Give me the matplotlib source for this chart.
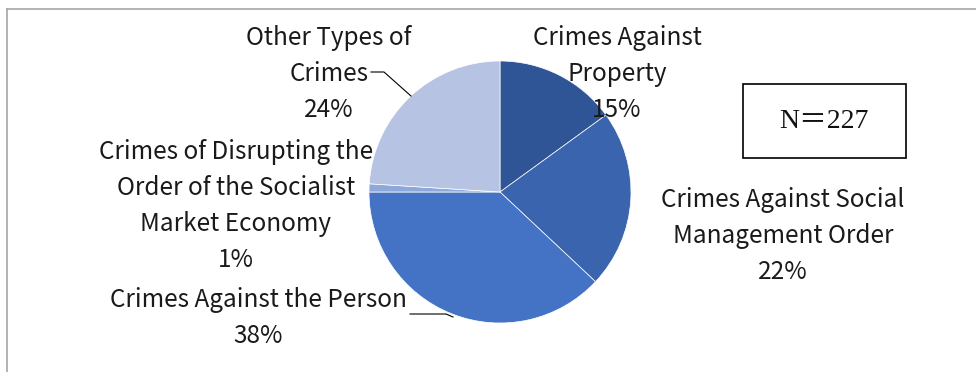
import matplotlib.pyplot as plt
from matplotlib.patches import Rectangle

# Case categories (clockwise from 12 o'clock) and their shares in percent
categories = [
    "Crimes Against\nProperty",
    "Crimes Against Social\nManagement Order",
    "Crimes Against the Person",
    "Crimes of Disrupting the\nOrder of the Socialist\nMarket Economy",
    "Other Types of\nCrimes",
]
shares = [15, 22, 38, 1, 24]
colors = ["#2F5597", "#3A64AD", "#4472C4", "#8FA8DA", "#B7C3E3"]
sample_size = 227

W, H = 976, 372
plt.rcParams['font.family'] = ['Noto Sans CJK SC', 'DejaVu Sans']

fig = plt.figure(figsize=(W / 100, H / 100), dpi=100)
ax = fig.add_axes([0, 0, 1, 1])


def py(y):
    # rows measured from the top of the figure
    return H - y


cx, cy, r = 500, py(192), 131
ax.pie(shares, colors=colors, startangle=90, counterclock=False,
       center=(cx, cy), radius=r, frame=True,
       wedgeprops=dict(edgecolor='white', linewidth=0.5))
ax.set_xlim(0, W)
ax.set_ylim(0, H)
ax.set_aspect('equal')
ax.axis('off')

# centre x and first-line y for each label block
label_pos = [(617, 38), (783, 200), (258, 300), (236, 152), (329, 38)]
line_step = 36
txt_color = '#1A1A1A'
for name, val, (lx, ly) in zip(categories, shares, label_pos):
    lines = name.split("\n") + [f"{val}%"]
    for i, line in enumerate(lines):
        ax.text(lx, py(ly + i * line_step), line, ha='center', va='center',
                fontsize=17.5, color=txt_color, fontweight='light')

# leader lines
ax.plot([371, 384, 411], [py(72), py(72), py(96)], color='black', lw=0.8)
ax.plot([410, 446, 453], [py(314), py(314), py(317)], color='black', lw=0.8)

# sample size box
ax.add_patch(Rectangle((743, py(158)), 163, 74, fill=False,
                       edgecolor='black', lw=1.2))
ax.text(824, py(121), f"N\uff1d{sample_size}", ha='center', va='center',
        fontsize=20, color='#111111',
        family=['Liberation Serif', 'Noto Sans CJK SC'])

# outer chart frame (top and left edges visible)
ax.plot([7, W], [py(9), py(9)], color='#A6A6A6', lw=1.2, clip_on=False)
ax.plot([7, 7], [py(9), 0], color='#A6A6A6', lw=1.2, clip_on=False)

fig.savefig('out.png', dpi=100, facecolor='white')
